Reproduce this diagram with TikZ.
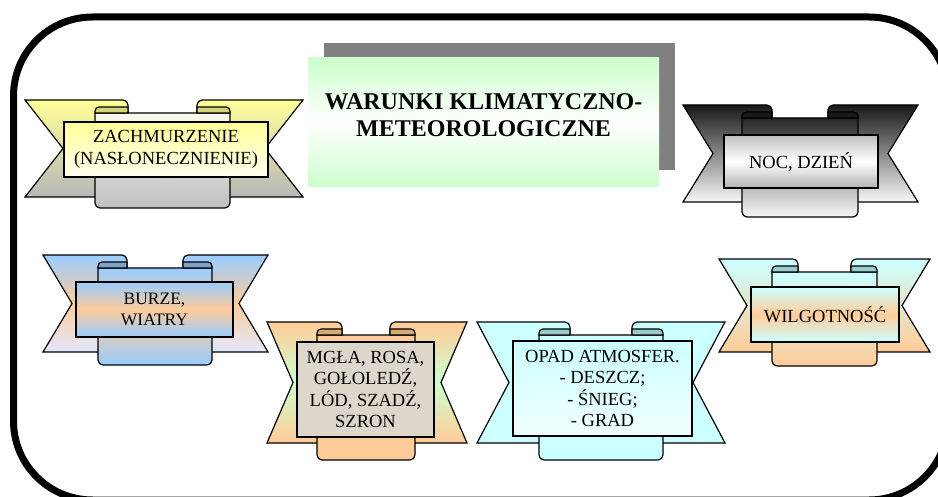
\documentclass[tikz,border=0pt]{standalone}
\usepackage{fontspec}
\setmainfont{Liberation Serif}

% Colours
\definecolor{lemon}{HTML}{FFFF99}
\definecolor{cream}{HTML}{FFFFEE}
\definecolor{olive}{HTML}{D4D47A}
\definecolor{sky}{HTML}{99CCFF}
\definecolor{skyroll}{HTML}{7FA3C7}
\definecolor{peach}{HTML}{FFCC99}
\definecolor{tan}{HTML}{D9A877}
\definecolor{mint}{HTML}{CCFFCC}
\definecolor{aqua}{HTML}{CCFFFF}
\definecolor{aquaroll}{HTML}{99CCCC}
\definecolor{stone}{HTML}{DDD6CA}
\definecolor{shadowgray}{HTML}{808080}

% Ribbon body: two notched tails, the panel behind the label and the two rolls.
% #1 left end, #2 right end, #3 tail top, #4 tail bottom, #5 notch depth,
% #6 panel left, #7 panel right, #8 panel bottom, #9 roll width
\newcommand\ribbonbody[9]{%
  \path[outline, tailshade]
    (#1,#3) -- ({#6+#9-5},#3) arc[start angle=270, end angle=360, radius=5]
    -- ({#6+#9},#4) -- (#1,#4) -- ({#1+#5},{(#3+#4)/2}) -- cycle;
  \path[outline, tailshade]
    (#2,#3) -- ({#7-#9+5},#3) arc[start angle=270, end angle=180, radius=5]
    -- ({#7-#9},#4) -- (#2,#4) -- ({#2-#5},{(#3+#4)/2}) -- cycle;
  \path[outline, panelshade]
    (#6,{#3+13}) -- (#6,{#8-5}) arc[start angle=180, end angle=90, radius=5]
    -- ({#7-5},#8) arc[start angle=90, end angle=0, radius=5]
    -- (#7,{#3+13}) -- cycle;
  \path[outline, rollfill]
    (#6,{#3+13}) -- (#6,{#3+11}) arc[start angle=180, end angle=270, radius=4]
    -- ({#6+#9},{#3+7}) -- ({#6+#9},{#3+13}) -- cycle;
  \path[outline, rollfill]
    (#7,{#3+13}) -- (#7,{#3+11}) arc[start angle=0, end angle=-90, radius=4]
    -- ({#7-#9},{#3+7}) -- ({#7-#9},{#3+13}) -- cycle;
}

\begin{document}
\begin{tikzpicture}[x=1pt, y=-1pt,
  outline/.style={draw=black, line width=1.2pt, line join=miter},
  label/.style={outline, inner sep=0pt, align=center,
    font=\fontsize{18.5}{21.5}\selectfont},
  frame/.style={draw=black, line width=7pt, rounded corners=79pt},
  titlebox/.style={inner sep=0pt, top color=mint, bottom color=mint, middle color=white},
  titletext/.style={inner sep=0pt, align=center, font=\bfseries\fontsize{24}{27}\selectfont},
]
\useasboundingbox (0,0) rectangle (938,497);

% Outer frame
\draw[frame] (13.5,17) rectangle (948,500);

% Title
\node[fill=shadowgray, inner sep=0pt, minimum width=351, minimum height=127]
  (titleshadow) at (499.5,106.5) {};
\node[titlebox, minimum width=351, minimum height=129] (titlebox) at (483.5,122.5) {};
\node[titletext] (title) at (483.5,115) {WARUNKI KLIMATYCZNO-\\METEOROLOGICZNE};

% Cloud cover
\begin{scope}[tailshade/.style={top color=lemon, bottom color=black!28},
  panelshade/.style={top color=lemon!85!black!15, bottom color=black!25},
  rollfill/.style={fill=olive}]
  \ribbonbody{25}{303}{100}{197}{38}{95}{230}{208}{33}
  \node[label, top color=lemon, bottom color=cream, minimum width=204, minimum height=55]
    (clouds) at (166,149.5) {ZACHMURZENIE\\(NASŁONECZNIENIE)};
\end{scope}

% Night and day
\begin{scope}[tailshade/.style={top color=black!90, bottom color=black!3},
  panelshade/.style={top color=black!85, bottom color=black!3},
  rollfill/.style={fill=black!90}]
  \ribbonbody{683}{918}{105}{202}{30}{742}{858}{217}{30}
  \node[label, top color=black!25, bottom color=black!30, middle color=white,
    minimum width=154, minimum height=53] (night) at (801,161.5) {NOC, DZIEŃ};
\end{scope}

% Storms and winds
\begin{scope}[tailshade/.style={top color=sky, bottom color=sky!70!blue!20, middle color=peach},
  panelshade/.style={top color=sky, bottom color=sky, middle color=peach},
  rollfill/.style={fill=skyroll}]
  \ribbonbody{43}{268}{255}{352}{29}{98}{212}{365}{29}
  \node[label, top color=sky, bottom color=sky, middle color=peach,
    font=\fontsize{17.5}{20.5}\selectfont,
    minimum width=157, minimum height=55] (storms) at (154.5,309.5) {BURZE,\\WIATRY};
\end{scope}

% Fog, dew, ice
\begin{scope}[tailshade/.style={top color=peach, bottom color=peach, middle color=mint},
  panelshade/.style={fill=peach},
  rollfill/.style={fill=tan}]
  \ribbonbody{267}{467}{322}{443}{26}{317}{415}{460}{25}
  \node[label, fill=stone, minimum width=137, minimum height=95]
    (fog) at (365.5,389.5) {MGŁA, ROSA,\\GOŁOLEDŹ,\\LÓD, SZADŹ,\\SZRON};
\end{scope}

% Precipitation
\begin{scope}[tailshade/.style={fill=aqua},
  panelshade/.style={fill=aqua},
  rollfill/.style={fill=aquaroll}]
  \ribbonbody{477}{725}{322}{443}{32}{539}{663}{460}{31}
  \node[label, top color=aqua, bottom color=aqua!30, minimum width=179, minimum height=95]
    (rain) at (602.5,388.5) {OPAD ATMOSFER.\\- DESZCZ;\\- ŚNIEG;\\- GRAD};
\end{scope}

% Humidity
\begin{scope}[tailshade/.style={top color=aqua, bottom color=peach},
  panelshade/.style={top color=aqua, bottom color=peach},
  rollfill/.style={fill=aquaroll}]
  \ribbonbody{719}{930}{259}{352}{28}{772}{877}{366}{26}
  \node[label, top color=aqua, bottom color=aqua, middle color=peach,
    minimum width=148, minimum height=55] (humidity) at (825,314.5) {WILGOTNOŚĆ};
\end{scope}
\end{tikzpicture}
\end{document}
